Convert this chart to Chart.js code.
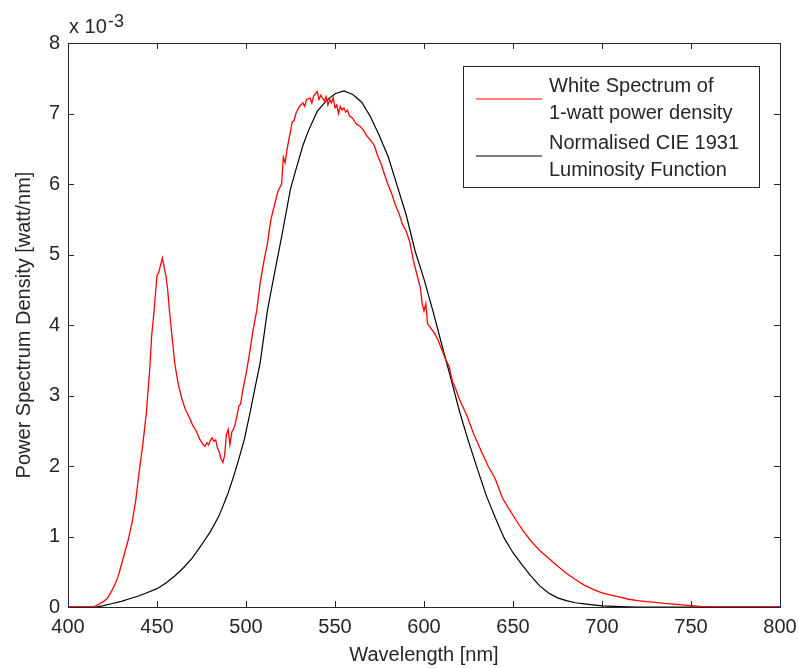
<!DOCTYPE html>
<html>
<head>
<meta charset="utf-8">
<script src="https://cdn.jsdelivr.net/npm/chart.js@4.4.0/dist/chart.umd.min.js"></script>
<style>
html, body { margin: 0; padding: 0; background: #fff; }
</style>
</head>
<body>
<canvas id="grafico" width="799" height="668"></canvas>
<script>
// valores em unidades de 10^-3 watt/nm (como no eixo)
const redNm = [400,405,410,414,416,418,420,422,424,426,428,430,432,434,436,438,440,442,444,446,447,448,449,450,451,452,453,454,455,456,457,458,459,460,462,464,466,468,470,472,474,476,477,478,479,480,481,482,483,484,485,486,487,488,489,490,491,492,493,494,495,496,497,498,500,502,504,506,508,510,512,514,516,518,520,521,522,523,524,525,526,527,528,530,532,533,534,536,537,538,539,540,541,542,543,544,545,546,547,548,549,550,551,552,553,554,555,556,557,558,560,562,564,566,568,570,572,574,576,578,580,582,584,586,588,590,592,594,596,598,599,600,601,602,604,606,608,610,612,614,616,618,620,624,628,632,636,640,644,648,652,656,660,665,670,675,680,685,690,695,700,705,710,715,720,725,730,735,740,745,750,755,760,765,800];
const redVal = [0,0,0,0,0.02,0.05,0.08,0.12,0.2,0.3,0.42,0.6,0.78,0.97,1.2,1.5,1.92,2.3,2.75,3.4,3.85,4.1,4.4,4.7,4.75,4.85,4.95,4.82,4.7,4.5,4.2,3.95,3.7,3.45,3.15,2.95,2.8,2.7,2.58,2.5,2.38,2.3,2.28,2.33,2.3,2.36,2.4,2.35,2.37,2.25,2.2,2.1,2.05,2.15,2.45,2.52,2.3,2.48,2.52,2.6,2.72,2.85,2.88,3.05,3.3,3.6,3.93,4.2,4.6,4.9,5.15,5.5,5.7,5.9,6.0,6.38,6.3,6.48,6.62,6.75,6.88,6.9,7.0,7.1,7.15,7.1,7.2,7.22,7.15,7.25,7.28,7.31,7.2,7.26,7.22,7.18,7.24,7.12,7.2,7.15,7.22,7.08,7.12,7.0,7.1,7.05,7.08,7.02,7.05,6.97,6.93,6.85,6.82,6.76,6.68,6.62,6.55,6.4,6.28,6.12,5.98,5.85,5.7,5.58,5.42,5.33,5.18,4.92,4.72,4.52,4.3,4.2,4.3,4.02,3.95,3.88,3.78,3.65,3.52,3.42,3.2,3.08,2.94,2.72,2.45,2.22,2.0,1.82,1.55,1.38,1.22,1.07,0.94,0.8,0.69,0.58,0.48,0.39,0.31,0.25,0.2,0.17,0.14,0.11,0.09,0.075,0.065,0.05,0.04,0.03,0.02,0.01,0.005,0,0];

const blackNm = [400,410,416,420,425,430,435,440,445,450,455,460,465,470,475,480,485,490,493,496,499,502,505,508,512,515,520,525,528,532,535,540,545,550,555,560,565,570,575,580,585,590,595,600,605,610,615,620,625,630,635,640,645,650,655,660,665,670,675,680,685,690,695,700,710,720,800];
const blackVal = [0,0,0,0.02,0.05,0.08,0.12,0.16,0.21,0.26,0.34,0.44,0.56,0.7,0.88,1.07,1.3,1.62,1.85,2.1,2.37,2.72,3.1,3.47,4.2,4.6,5.25,5.93,6.2,6.55,6.75,7.03,7.18,7.28,7.32,7.27,7.16,6.95,6.68,6.38,5.97,5.56,5.05,4.65,4.2,3.72,3.25,2.77,2.35,1.96,1.58,1.27,0.98,0.77,0.6,0.44,0.3,0.2,0.13,0.09,0.06,0.045,0.03,0.015,0.005,0,0];

const ticksX = [400,450,500,550,600,650,700,750,800];
const ticksY = [0,1,2,3,4,5,6,7,8];
const legendRed = ['White Spectrum of', '1-watt power density'];
const legendBlack = ['Normalised CIE 1931', 'Luminosity Function'];

const fonte = '"Liberation Sans", Arial, sans-serif';

const moldura = {
  id: 'moldura',
  afterDraw(chart) {
    const { ctx, chartArea: a, scales: { x, y } } = chart;
    ctx.save();
    ctx.strokeStyle = '#262626';
    ctx.lineWidth = 1;
    ctx.strokeRect(a.left + 0.5, a.top + 0.5, a.right - a.left, a.bottom - a.top);
    ctx.beginPath();
    ticksX.forEach(v => {
      const px = Math.round(x.getPixelForValue(v)) + 0.5;
      ctx.moveTo(px, a.bottom); ctx.lineTo(px, a.bottom - 6);
      ctx.moveTo(px, a.top); ctx.lineTo(px, a.top + 6);
    });
    ticksY.forEach(v => {
      const py = Math.round(y.getPixelForValue(v)) + 0.5;
      ctx.moveTo(a.left, py); ctx.lineTo(a.left + 6, py);
      ctx.moveTo(a.right, py); ctx.lineTo(a.right - 6, py);
    });
    ctx.stroke();

    // expoente do eixo y
    ctx.fillStyle = '#262626';
    ctx.textBaseline = 'alphabetic';
    ctx.textAlign = 'left';
    ctx.font = '20px ' + fonte;
    ctx.fillText('x 10', a.left + 1, a.top - 10);
    ctx.font = '18px ' + fonte;
    ctx.fillText('-3', a.left + 40, a.top - 16);

    // legenda em caixa
    const bx = a.right - 317, by = a.top + 23, bw = 296, bh = 121;
    ctx.fillStyle = '#fff';
    ctx.fillRect(bx, by, bw, bh);
    ctx.strokeRect(bx + 0.5, by + 0.5, bw, bh);
    const itens = [
      { cor: chart.data.datasets[0].borderColor, linhas: chart.data.datasets[0].label },
      { cor: chart.data.datasets[1].borderColor, linhas: chart.data.datasets[1].label }
    ];
    ctx.font = '20px ' + fonte;
    ctx.textBaseline = 'middle';
    itens.forEach((it, i) => {
      const y0 = by + 20 + i * 57;
      ctx.strokeStyle = it.cor;
      ctx.lineWidth = 1.2;
      ctx.beginPath();
      ctx.moveTo(bx + 13, y0 + 13); ctx.lineTo(bx + 79, y0 + 13);
      ctx.stroke();
      ctx.fillStyle = '#262626';
      it.linhas.forEach((t, j) => ctx.fillText(t, bx + 86, y0 + j * 27));
    });
    ctx.restore();
  }
};

const ctx = document.getElementById('grafico').getContext('2d');
const grafico = new Chart(ctx, {
  type: 'line',
  data: {
    datasets: [{
      label: legendRed,
      data: redNm.map((n, i) => ({ x: n, y: redVal[i] })),
      borderColor: '#ff0000',
      borderWidth: 1.3,
      pointRadius: 0,
      fill: false
    }, {
      label: legendBlack,
      data: blackNm.map((n, i) => ({ x: n, y: blackVal[i] })),
      borderColor: '#000000',
      borderWidth: 1.2,
      pointRadius: 0,
      fill: false
    }]
  },
  options: {
    responsive: false,
    animation: false,
    layout: { padding: { top: 43, right: 19, left: 0, bottom: 0 } },
    plugins: { legend: { display: false }, tooltip: { enabled: false } },
    scales: {
      x: {
        type: 'linear', min: 400, max: 800,
        afterFit: s => { s.height = 61; s.paddingLeft = 0; s.paddingRight = 0; },
        afterBuildTicks: s => { s.ticks = ticksX.map(v => ({ value: v })); },
        grid: { display: false, drawTicks: false },
        border: { display: false },
        ticks: { padding: 8, color: '#262626', font: { family: fonte, size: 20 }, maxRotation: 0 },
        title: { display: true, text: 'Wavelength [nm]', color: '#262626', font: { family: fonte, size: 20, lineHeight: 1.2 }, padding: { top: 0, bottom: 1 } }
      },
      y: {
        type: 'linear', min: 0, max: 8,
        afterFit: s => { s.width = 68; s.paddingTop = 0; s.paddingBottom = 0; },
        afterBuildTicks: s => { s.ticks = ticksY.map(v => ({ value: v })); },
        grid: { display: false, drawTicks: false },
        border: { display: false },
        ticks: { padding: 8, color: '#262626', font: { family: fonte, size: 20 } },
        title: { display: true, text: 'Power Spectrum Density [watt/nm]', color: '#262626', font: { family: fonte, size: 20, lineHeight: 1.2 }, padding: { top: 12, bottom: 0 } }
      }
    }
  },
  plugins: [moldura]
});
</script>
</body>
</html>
